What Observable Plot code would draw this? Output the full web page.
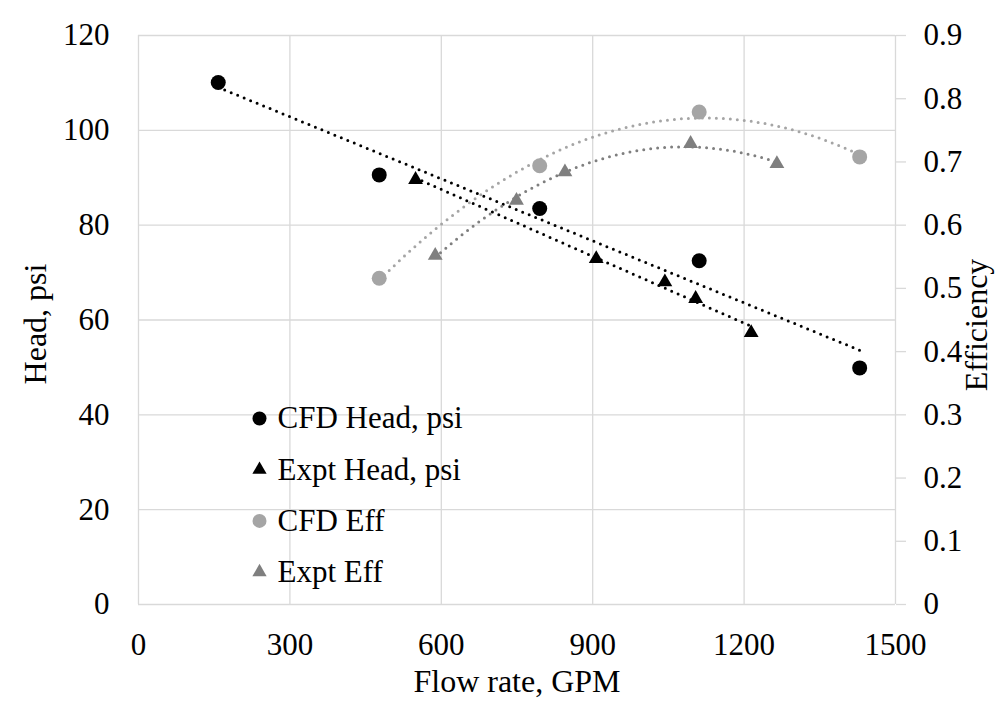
<!DOCTYPE html>
<html>
<head>
<meta charset="utf-8">
<script src="https://cdn.jsdelivr.net/npm/d3@7"></script>
<script src="https://cdn.jsdelivr.net/npm/@observablehq/plot@0.6"></script>
<style>
html, body { margin: 0; padding: 0; background: #fff; }
#chart { width: 997px; height: 702px; }
</style>
</head>
<body>
<div id="chart"></div>
<script>
// ---- Data ----
const cfdHeadFlow = [158, 477, 795, 1111, 1429];
const cfdHead = [110.1, 90.6, 83.5, 72.5, 49.9];
const exptHeadFlow = [549, 907, 1043, 1104, 1214];
const exptHead = [89.6, 72.9, 68.0, 64.5, 57.3];
const cfdEffFlow = [477, 795, 1111, 1429];
const cfdEff = [0.516, 0.694, 0.779, 0.708];
const exptEffFlow = [588, 749, 845, 1094, 1265];
const exptEff = [0.552, 0.639, 0.684, 0.729, 0.697];

const flowTicks = [0, 300, 600, 900, 1200, 1500];
const headTicks = [0, 20, 40, 60, 80, 100, 120];
const effTicks = [0, 0.1, 0.2, 0.3, 0.4, 0.5, 0.6, 0.7, 0.8, 0.9];
const seriesNames = ["CFD Head, psi", "Expt Head, psi", "CFD Eff", "Expt Eff"];
const xLabel = "Flow rate, GPM";
const yLabel = "Head, psi";
const y2Label = "Efficiency";

// ---- Build ----
const headMax = 120, effMax = 0.9;
const k = headMax / effMax; // efficiency -> head-scale factor

const toRows = (xs, ys) => xs.map((x, i) => ({x, y: ys[i]}));
const cfdHeadRows = toRows(cfdHeadFlow, cfdHead);
const exptHeadRows = toRows(exptHeadFlow, exptHead);
const cfdEffRows = toRows(cfdEffFlow, cfdEff);
const exptEffRows = toRows(exptEffFlow, exptEff);

// least-squares 2nd order polynomial trendline (like Excel's)
function polyfit2(rows) {
  let s0=0,s1=0,s2=0,s3=0,s4=0,t0=0,t1=0,t2=0;
  for (const {x, y} of rows) {
    s0++; s1+=x; s2+=x*x; s3+=x*x*x; s4+=x*x*x*x;
    t0+=y; t1+=x*y; t2+=x*x*y;
  }
  const A = [[s0,s1,s2,t0],[s1,s2,s3,t1],[s2,s3,s4,t2]];
  for (let i = 0; i < 3; i++) {
    for (let j = i+1; j < 3; j++) {
      const f = A[j][i] / A[i][i];
      for (let c = i; c < 4; c++) A[j][c] -= f * A[i][c];
    }
  }
  const c = [0,0,0];
  for (let i = 2; i >= 0; i--) {
    let s = A[i][3];
    for (let j = i+1; j < 3; j++) s -= A[i][j] * c[j];
    c[i] = s / A[i][i];
  }
  const [x0, x1] = d3.extent(rows, d => d.x);
  return d3.range(101).map(i => {
    const x = x0 + (x1 - x0) * i / 100;
    return {x, y: c[0] + c[1]*x + c[2]*x*x};
  });
}
const cfdEffFit = polyfit2(cfdEffRows);
const exptEffFit = polyfit2(exptEffRows);

const gridColor = "#d9d9d9";
const black = "#000000";
const lightGray = "#a5a5a5";
const midGray = "#7f7f7f";
const font = "'Liberation Serif', 'Times New Roman', serif";
const dotted = {strokeWidth: 3, strokeDasharray: "0 7", strokeLinecap: "round"};

const legendStyle = [
  {symbol: "circle", fill: black, r: 7},
  {symbol: "triangle", fill: black, r: 5.3},
  {symbol: "circle", fill: lightGray, r: 7},
  {symbol: "triangle", fill: midGray, r: 5.3}
];

const legendMarks = seriesNames.flatMap((name, i) => [
  Plot.dot([name], {x: null, y: null, frameAnchor: "top-left", dx: 121, dy: 383 + i * 51.2,
    symbol: legendStyle[i].symbol, fill: legendStyle[i].fill, r: legendStyle[i].r, stroke: "none"}),
  Plot.text([name], {x: null, y: null, frameAnchor: "top-left", dx: 139, dy: 383 + i * 51.2,
    textAnchor: "start", lineAnchor: "middle", fontSize: 31, fill: black})
]);

const chart = Plot.plot({
  width: 997,
  height: 702,
  marginTop: 35,
  marginRight: 102,
  marginBottom: 98,
  marginLeft: 138,
  style: {fontFamily: font, fontSize: "31px", color: "#000", background: "#fff"},
  x: {domain: [0, 1500]},
  y: {domain: [0, headMax]},
  marks: [
    Plot.gridX({ticks: flowTicks, stroke: gridColor, strokeOpacity: 1, strokeWidth: 1.3}),
    Plot.gridY({ticks: headTicks, stroke: gridColor, strokeOpacity: 1, strokeWidth: 1.3}),
    Plot.axisX({ticks: flowTicks, tickSize: 0, tickPadding: 28, label: null, fontSize: 31, tickFormat: d => String(d)}),
    Plot.axisY({ticks: headTicks, anchor: "left", tickSize: 0, tickPadding: 29, label: null, fontSize: 31, tickFormat: d => String(d)}),
    Plot.axisY(effTicks.map(e => e * k), {anchor: "right", tickSize: 10, tickPadding: 18, label: null,
      fontSize: 31, stroke: gridColor, strokeWidth: 1.3, fill: black,
      tickFormat: d => String(Math.round(d / k * 10) / 10)}),
    // trendlines
    Plot.linearRegressionY(cfdHeadRows, {x: "x", y: "y", stroke: black, ci: 0, ...dotted}),
    Plot.linearRegressionY(exptHeadRows, {x: "x", y: "y", stroke: black, ci: 0, ...dotted}),
    Plot.line(cfdEffFit, {x: "x", y: d => d.y * k, stroke: lightGray, curve: "linear", ...dotted}),
    Plot.line(exptEffFit, {x: "x", y: d => d.y * k, stroke: midGray, curve: "linear", ...dotted}),
    // markers
    Plot.dot(cfdEffRows, {x: "x", y: d => d.y * k, symbol: "circle", fill: lightGray, r: 7.5, stroke: "none"}),
    Plot.dot(exptEffRows, {x: "x", y: d => d.y * k, symbol: "triangle", fill: midGray, r: 5.5, stroke: "none"}),
    Plot.dot(cfdHeadRows, {x: "x", y: "y", symbol: "circle", fill: black, r: 7.5, stroke: "none"}),
    Plot.dot(exptHeadRows, {x: "x", y: "y", symbol: "triangle", fill: black, r: 5.5, stroke: "none"}),
    // axis titles
    Plot.text([xLabel], {x: null, y: null, frameAnchor: "bottom", dy: 77, fontSize: 32, fill: black, textAnchor: "middle", lineAnchor: "middle"}),
    Plot.text([yLabel], {x: null, y: null, frameAnchor: "left", dx: -103, dy: 4, rotate: -90, fontSize: 32, fill: black, textAnchor: "middle", lineAnchor: "middle"}),
    Plot.text([y2Label], {x: null, y: null, frameAnchor: "right", dx: 81, dy: 5, rotate: -90, fontSize: 32, fill: black, textAnchor: "middle", lineAnchor: "middle"}),
    ...legendMarks
  ]
});
document.getElementById("chart").appendChild(chart);
</script>
</body>
</html>
